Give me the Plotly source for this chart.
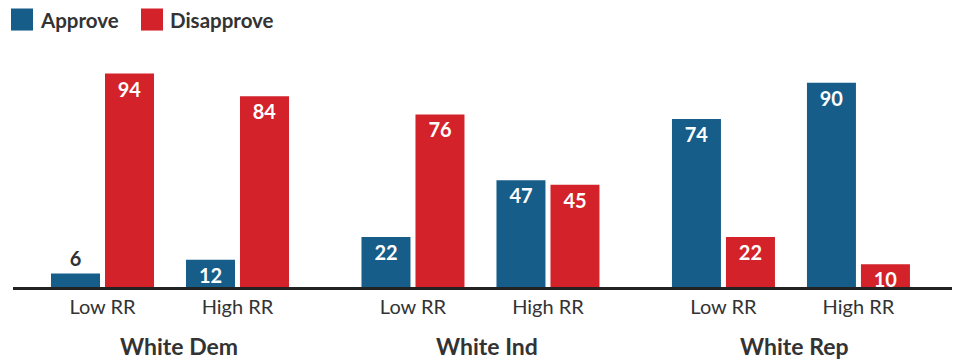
import plotly.graph_objects as go

# Survey results: share approving / disapproving, by party and racial resentment (RR)
groups = ["White Dem", "White Ind", "White Rep"]
rr_levels = ["Low RR", "High RR"]
approve = [6, 12, 22, 47, 74, 90]
disapprove = [94, 84, 76, 45, 22, 10]

# x positions: pairs within a party sit one unit apart, parties separated by a wider gap
x_pos = [0, 1, 2.3, 3.3, 4.6, 5.6]
group_centers = [0.5, 2.8, 5.1]
tick_text = rr_levels * len(groups)

BLUE = "#175d89"
RED = "#d3222a"
DARK = "#333333"
FONT = "Lato"

BAR_W = 0.363


def label_positions(values):
    # very short bars get their label above the bar
    return ["outside" if v < 10 else "inside" for v in values]


def bar_trace(values, name, color, offset):
    return go.Bar(
        x=x_pos, y=values, name=name,
        marker=dict(color=color, line=dict(width=0)),
        width=BAR_W, offset=offset,
        text=[str(v) for v in values],
        textposition=label_positions(values),
        textangle=0,
        constraintext="none",
        insidetextanchor="end",
        insidetextfont=dict(family=FONT, size=20, color="white", weight="bold"),
        outsidetextfont=dict(family=FONT, size=20, color=DARK, weight="bold"),
        cliponaxis=False,
        hoverinfo="skip",
    )


fig = go.Figure()
fig.add_trace(bar_trace(approve, "Approve", BLUE, -0.3815))
fig.add_trace(bar_trace(disapprove, "Disapprove", RED, 0.0185))

# party names below the RR tick labels
annotations = []
for name, cx, shift in zip(groups, group_centers, [9, 7, 4]):
    annotations.append(dict(
        x=cx, y=-0.259, xref="x", yref="paper", xshift=shift,
        text=f"<b>{name}</b>", showarrow=False,
        xanchor="center", yanchor="middle",
        font=dict(family=FONT, size=23, color=DARK),
    ))

# legend drawn as swatches + labels across the top
L, W = 13, 939
H, B = 226.6, 287


def px(xp):
    return (xp - L) / W


def py(yp):
    return (B - yp) / H


shapes = []
legend_items = [("Approve", BLUE, 11, 38), ("Disapprove", RED, 141, 168)]
for label, color, sx, tx in legend_items:
    shapes.append(dict(
        type="rect", xref="paper", yref="paper",
        x0=px(sx), x1=px(sx + 22), y0=py(31), y1=py(9),
        fillcolor=color, line=dict(width=0), layer="above",
    ))
    annotations.append(dict(
        x=px(tx), y=py(20), xref="paper", yref="paper",
        text=f"<b>{label}</b>", showarrow=False,
        xanchor="left", yanchor="middle",
        font=dict(family=FONT, size=20.5, color=DARK),
    ))

fig.update_layout(
    width=957, height=360,
    margin=dict(l=13, r=5, t=60.4, b=73, pad=0),
    paper_bgcolor="white", plot_bgcolor="white",
    showlegend=False,
    barmode="overlay",
    annotations=annotations,
    shapes=shapes,
    xaxis=dict(
        range=[-0.663, 6.293],
        tickvals=x_pos, ticktext=tick_text,
        ticks="", showgrid=False, zeroline=False,
        showline=True, linecolor="#222222", linewidth=2.5,
        tickfont=dict(family=FONT, size=20, color=DARK),
        fixedrange=True,
    ),
    yaxis=dict(
        range=[0, 100], visible=False, showgrid=False, zeroline=False,
        fixedrange=True,
    ),
)

fig.write_html("out.html")
